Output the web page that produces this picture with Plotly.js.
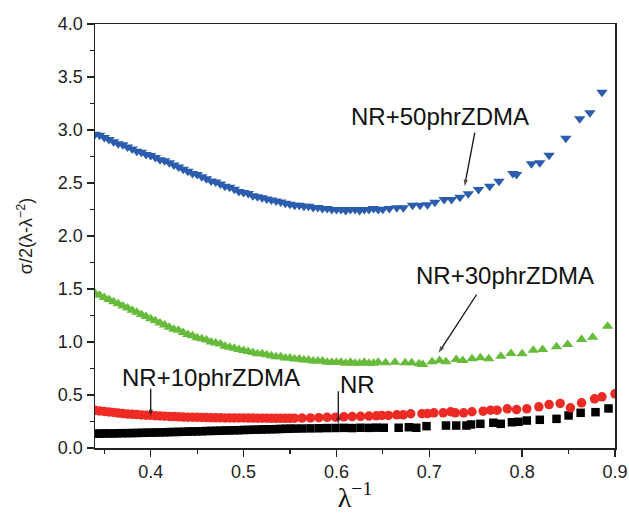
<!DOCTYPE html>
<html>
<head>
<meta charset="utf-8">
<script src="https://cdn.plot.ly/plotly-3.0.1.min.js"></script>
<style>
  html, body { margin: 0; padding: 0; background: #ffffff; }
  #chart { width: 629px; height: 513px; }
</style>
</head>
<body>
<div id="chart"></div>
<script>
// λ^-1 sampling shared by all four samples in the closely spaced low-strain region
const lamDense = [0.340, 0.345, 0.350, 0.355, 0.360, 0.365, 0.370, 0.375, 0.380, 0.385,
                  0.390, 0.395, 0.400, 0.405, 0.410, 0.415, 0.420, 0.425, 0.430, 0.435,
                  0.440, 0.445, 0.450, 0.455, 0.460, 0.465, 0.470, 0.475, 0.480, 0.485,
                  0.490, 0.495, 0.500, 0.505, 0.510, 0.515, 0.520, 0.525, 0.530, 0.535,
                  0.540, 0.545, 0.550, 0.555];
// continuation for the triangle series (still closely spaced)
const lamMidTri = [0.560, 0.565, 0.570, 0.575, 0.580, 0.585, 0.590, 0.595, 0.600, 0.605,
                   0.610, 0.615, 0.620, 0.625, 0.630, 0.635, 0.640, 0.645];
// continuation for the circle / square series
const lamMidDot = [0.563, 0.572, 0.581, 0.590, 0.599, 0.608, 0.617, 0.626, 0.635, 0.643];

// NR (black squares)
const nrDense = [0.135, 0.136, 0.137, 0.137, 0.138, 0.139, 0.140, 0.140, 0.141, 0.142,
                 0.143, 0.144, 0.145, 0.146, 0.147, 0.148, 0.150, 0.151, 0.152, 0.153,
                 0.155, 0.156, 0.157, 0.158, 0.160, 0.161, 0.162, 0.163, 0.165, 0.166,
                 0.167, 0.168, 0.170, 0.171, 0.172, 0.173, 0.175, 0.176, 0.177, 0.178,
                 0.180, 0.181, 0.182, 0.183];
const nrMid = [0.184, 0.185, 0.186, 0.188, 0.189, 0.190, 0.188, 0.191, 0.190, 0.192];
const nrTailX = [0.651, 0.667, 0.678, 0.686, 0.697, 0.718, 0.729, 0.740, 0.745, 0.755,
                 0.769, 0.777, 0.789, 0.796, 0.805, 0.819, 0.837, 0.850, 0.863, 0.879, 0.893];
const nrTailY = [0.191, 0.191, 0.196, 0.191, 0.206, 0.212, 0.212, 0.212, 0.222, 0.228,
                 0.238, 0.228, 0.243, 0.247, 0.259, 0.266, 0.275, 0.307, 0.332, 0.338, 0.373];

// NR+10phrZDMA (red circles)
const z10Dense = [0.355, 0.350, 0.345, 0.340, 0.335, 0.330, 0.325, 0.320, 0.318, 0.315,
                  0.312, 0.310, 0.308, 0.305, 0.303, 0.300, 0.298, 0.296, 0.294, 0.292,
                  0.291, 0.290, 0.289, 0.288, 0.287, 0.286, 0.285, 0.285, 0.284, 0.284,
                  0.283, 0.283, 0.283, 0.282, 0.282, 0.281, 0.281, 0.281, 0.280, 0.280,
                  0.280, 0.280, 0.280, 0.281];
const z10Mid = [0.282, 0.284, 0.286, 0.289, 0.291, 0.294, 0.296, 0.299, 0.301, 0.304];
const z10TailX = [0.649, 0.656, 0.665, 0.672, 0.680, 0.692, 0.698, 0.705, 0.715, 0.723,
                  0.728, 0.737, 0.746, 0.758, 0.766, 0.773, 0.784, 0.794, 0.805, 0.818,
                  0.829, 0.841, 0.852, 0.864, 0.878, 0.886, 0.900];
const z10TailY = [0.307, 0.307, 0.313, 0.313, 0.323, 0.323, 0.325, 0.332, 0.332, 0.342,
                  0.332, 0.332, 0.342, 0.347, 0.357, 0.357, 0.370, 0.363, 0.370, 0.389,
                  0.410, 0.420, 0.379, 0.426, 0.464, 0.483, 0.511];

// NR+30phrZDMA (green up-triangles)
const z30Dense = [1.46, 1.44, 1.42, 1.40, 1.38, 1.36, 1.34, 1.32, 1.30, 1.28,
                  1.26, 1.24, 1.22, 1.20, 1.18, 1.16, 1.14, 1.12, 1.11, 1.09,
                  1.07, 1.06, 1.04, 1.03, 1.02, 1.00, 0.99, 0.98, 0.96, 0.95,
                  0.94, 0.93, 0.92, 0.91, 0.90, 0.89, 0.89, 0.88, 0.87, 0.86,
                  0.86, 0.85, 0.85, 0.84];
const z30Mid = [0.84, 0.83, 0.83, 0.82, 0.82, 0.82, 0.81, 0.81, 0.81, 0.81,
                0.80, 0.81, 0.80, 0.80, 0.81, 0.80, 0.80, 0.81];
const z30TailX = [0.653, 0.663, 0.674, 0.681, 0.689, 0.693, 0.703, 0.711, 0.718, 0.729,
                  0.736, 0.746, 0.755, 0.764, 0.777, 0.788, 0.800, 0.812, 0.822, 0.837,
                  0.849, 0.864, 0.876, 0.892];
const z30TailY = [0.804, 0.809, 0.804, 0.804, 0.794, 0.788, 0.813, 0.825, 0.813, 0.835,
                  0.825, 0.842, 0.851, 0.842, 0.866, 0.892, 0.889, 0.923, 0.929, 0.955,
                  0.976, 1.024, 1.045, 1.149];

// NR+50phrZDMA (blue down-triangles)
const z50Dense = [2.96, 2.95, 2.93, 2.91, 2.89, 2.87, 2.86, 2.84, 2.82, 2.80,
                  2.79, 2.77, 2.76, 2.74, 2.72, 2.71, 2.69, 2.67, 2.65, 2.63,
                  2.61, 2.59, 2.58, 2.56, 2.54, 2.52, 2.51, 2.49, 2.47, 2.46,
                  2.44, 2.42, 2.41, 2.40, 2.38, 2.37, 2.36, 2.35, 2.34, 2.33,
                  2.32, 2.31, 2.30, 2.29];
const z50Mid = [2.29, 2.28, 2.28, 2.27, 2.27, 2.26, 2.26, 2.25, 2.25, 2.25,
                2.24, 2.25, 2.25, 2.24, 2.25, 2.25, 2.26, 2.25];
const z50TailX = [0.650, 0.657, 0.665, 0.672, 0.682, 0.690, 0.698, 0.706, 0.716, 0.724,
                  0.733, 0.742, 0.753, 0.765, 0.775, 0.790, 0.794, 0.810, 0.819, 0.829,
                  0.847, 0.862, 0.873, 0.886];
const z50TailY = [2.253, 2.259, 2.266, 2.266, 2.290, 2.290, 2.295, 2.319, 2.344, 2.344,
                  2.366, 2.398, 2.439, 2.470, 2.517, 2.590, 2.580, 2.681, 2.691, 2.762,
                  2.923, 3.106, 3.162, 3.355];

// curve labels and the pointers that tie each label to its curve
const labelText = ['NR+50phrZDMA', 'NR+30phrZDMA', 'NR+10phrZDMA', 'NR'];
const labelX = [0.7115, 0.7815, 0.465, 0.623];
const labelY = [3.13, 1.63, 0.665, 0.60];
const pointerFromX = [0.749, 0.751, 0.400, 0.602];
const pointerFromY = [2.975, 1.448, 0.560, 0.536];
const pointerToX = [0.738, 0.710, 0.400, 0.602];
const pointerToY = [2.470, 0.898, 0.300, 0.222];

const xTickVals = [0.4, 0.5, 0.6, 0.7, 0.8, 0.9];
const yTickVals = [0.0, 0.5, 1.0, 1.5, 2.0, 2.5, 3.0, 3.5, 4.0];

function series(xs, ys, name, symbol, color, size) {
  return {
    type: 'scatter', mode: 'markers', name: name,
    x: [].concat(...xs), y: [].concat(...ys),
    marker: { symbol: symbol, color: color, size: size, line: { width: 0 } },
    hoverinfo: 'x+y+name'
  };
}

const traces = [
  series([lamDense, lamMidDot, nrTailX], [nrDense, nrMid, nrTailY], 'NR', 'square', '#000000', 8.5),
  series([lamDense, lamMidDot, z10TailX], [z10Dense, z10Mid, z10TailY], 'NR+10phrZDMA', 'circle', '#ee2a24', 9.5),
  series([lamDense, lamMidTri, z30TailX], [z30Dense, z30Mid, z30TailY], 'NR+30phrZDMA', 'triangle-up', '#66bb3a', 10),
  series([lamDense, lamMidTri, z50TailX], [z50Dense, z50Mid, z50TailY], 'NR+50phrZDMA', 'triangle-down', '#2b5cad', 10)
];

// pointer arrows: a short line whose end carries an arrow-head marker aimed along the line
for (let i = 0; i < labelText.length; i++) {
  traces.push({
    type: 'scatter', mode: 'lines+markers', showlegend: false, hoverinfo: 'skip',
    x: [pointerFromX[i], pointerToX[i]],
    y: [pointerFromY[i], pointerToY[i]],
    line: { color: '#111111', width: 1.3 },
    marker: { symbol: 'arrow', angleref: 'previous', size: [0, 7], color: '#111111',
              line: { width: 0 } },
    cliponaxis: false
  });
}

const labelFont = { family: 'Liberation Sans, Arial, sans-serif', size: 24, color: '#111111' };

const annotations = labelText.map((t, i) => ({
  text: t, x: labelX[i], y: labelY[i], xref: 'x', yref: 'y', showarrow: false,
  font: labelFont, xanchor: 'center', yanchor: 'middle'
}));

const axisCommon = {
  showline: true, linecolor: '#222222', linewidth: 1.5, mirror: true,
  ticks: 'outside', ticklen: 7, tickwidth: 1.3, tickcolor: '#222222',
  showgrid: false, zeroline: false,
  tickfont: { family: 'Liberation Sans, Arial, sans-serif', size: 18, color: '#222222' },
  tickformat: '.1f'
};

const layout = {
  width: 629, height: 513,
  margin: { l: 95, r: 14, t: 24, b: 65 },
  paper_bgcolor: '#ffffff', plot_bgcolor: '#ffffff',
  showlegend: false,
  xaxis: Object.assign({}, axisCommon, {
    range: [0.34, 0.9], tickmode: 'array', tickvals: xTickVals,
    minor: { dtick: 0.05, tick0: 0, ticks: 'outside', ticklen: 4, tickwidth: 1.2, tickcolor: '#222222' },
    title: { text: 'λ<sup>−1</sup>', standoff: 4,
             font: { family: 'Liberation Serif, Times New Roman, serif', size: 28, color: '#111111' } }
  }),
  yaxis: Object.assign({}, axisCommon, {
    range: [0, 4], tickmode: 'array', tickvals: yTickVals,
    minor: { dtick: 0.25, tick0: 0, ticks: 'outside', ticklen: 4, tickwidth: 1.2, tickcolor: '#222222' },
    title: { text: 'σ/2(λ-λ<sup>−2</sup>)', standoff: 20,
             font: { family: 'Liberation Sans, Arial, sans-serif', size: 18, color: '#222222' } }
  }),
  annotations: annotations
};

Plotly.newPlot('chart', traces, layout, { displayModeBar: false, staticPlot: true });
</script>
</body>
</html>
